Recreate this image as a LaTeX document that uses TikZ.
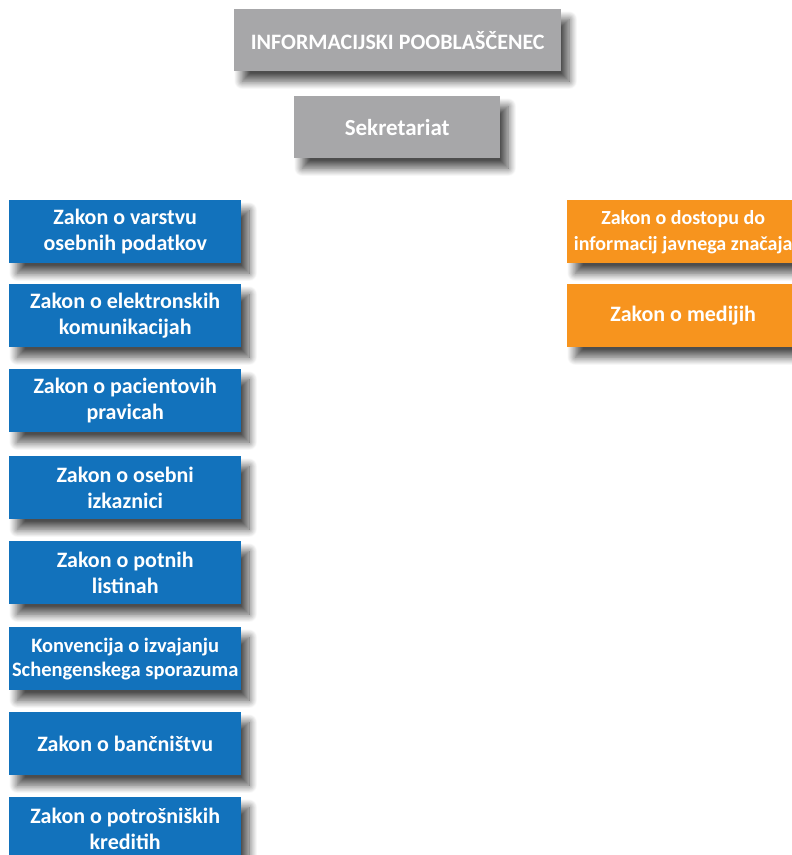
\documentclass[tikz,border=0pt]{standalone}
\usepackage{fontspec}
\setmainfont{Carlito}
\usetikzlibrary{positioning, shadows.blur}

\definecolor{boxgray}{HTML}{A7A7A9}
\definecolor{lawblue}{HTML}{1272BC}
\definecolor{laworange}{HTML}{F7941E}

\tikzset{
  orgbox/.style={anchor=north west, inner sep=0pt, align=center, text=white,
    minimum height=63pt,
    font=\bfseries\fontsize{22}{26}\selectfont,
    blur shadow={shadow xshift=8pt, shadow yshift=-10pt, shadow blur radius=8pt,
      shadow blur steps=14, shadow opacity=70}},
  headbox/.style={orgbox, fill=boxgray, minimum height=62pt,
    font=\bfseries\fontsize{22}{26}\selectfont},
  lawbox/.style={orgbox, fill=lawblue, minimum width=232pt},
  infobox/.style={orgbox, fill=laworange, minimum width=232pt}
}

\begin{document}
\begin{tikzpicture}[x=1pt, y=-1pt]
    \useasboundingbox (0, 0) rectangle (792, 855);

    % head of the office
    \node[headbox, minimum width=327pt] (ip) at (234, 9) {INFORMACIJSKI POOBLAŠČENEC};
    \node[headbox, minimum width=206pt, font=\bfseries\fontsize{23}{26}\selectfont] (sekr) at (294, 96) {Sekretariat};

    % left column
    \node[lawbox] (zvop) at (9, 200) {Zakon o varstvu\\osebnih podatkov};
    \node[lawbox] (zekom) at (9, 284) {Zakon o elektronskih\\komunikacijah};
    \node[lawbox] (zpacp) at (9, 369) {Zakon o pacientovih\\pravicah};
    \node[lawbox] (zoi) at (9, 456) {Zakon o osebni\\izkaznici};
    \node[lawbox] (zpotl) at (9, 541) {Zakon o potnih\\listinah};
    \node[lawbox, font=\bfseries\fontsize{20.5}{24}\selectfont] (konv) at (9, 627) {Konvencija o izvajanju\\Schengenskega sporazuma};
    \node[lawbox] (zban) at (9, 712) {Zakon o bančništvu};
    \node[lawbox] (zpotk) at (9, 797) {Zakon o potrošniških\\kreditih};

    % right column
    \node[infobox, font=\bfseries\fontsize{20}{26}\selectfont] (zdijz) at (567, 200) {Zakon o dostopu do\\informacij javnega značaja};
    \node[infobox] (zmed) at (567, 284) {Zakon o medijih};
\end{tikzpicture}
\end{document}
